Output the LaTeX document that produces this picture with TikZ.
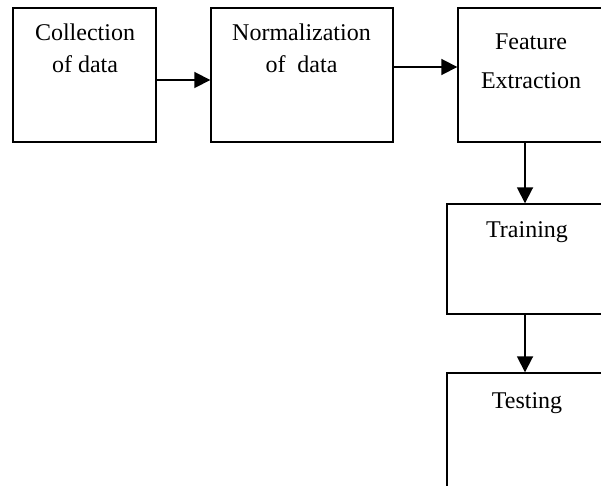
\documentclass[tikz,border=0pt]{standalone}
\usepackage{fontspec}
\setmainfont{Liberation Serif}
\usetikzlibrary{positioning,arrows.meta}

\tikzset{
  box/.style={draw, line width=1.4pt, inner sep=0pt},
  lbl/.style={inner sep=0pt, anchor=base, align=center, font=\fontsize{24}{32}\selectfont},
  arr/.style={line width=1.8pt, -{Triangle[length=16pt,width=16pt]}}
}

\begin{document}
\begin{tikzpicture}[x=1pt, y=-1pt]
\useasboundingbox (0,0) rectangle (601,486);
\clip (0,0) rectangle (601,486);

% Define nodes
\node[box, minimum width=143pt, minimum height=134pt] (coll) at (84.5,75) {};
\node[box, minimum width=182pt, minimum height=134pt, right=53.6pt of coll] (norm) {};
\node[box, minimum width=146pt, minimum height=134pt, right=63.6pt of norm] (feat) {};
\node[box, minimum width=160pt, minimum height=110pt, below=60.6pt of feat, xshift=-4pt] (train) {};
\node[box, minimum width=160pt, minimum height=130pt, below=57.6pt of train] (test) {};

% Labels
\node[lbl] (collT) at (85,73) {Collection\\of data};
\node[lbl] (normT) at (301.5,73) {Normalization\\of~~data};
\node[lbl] (featT) at (531,89) {Feature\\[7pt]Extraction};
\node[lbl] (trainT) at (527,237) {Training};
\node[lbl] (testT) at (527,408) {Testing};

% Connect the nodes
\draw[arr] ([yshift=-5pt]coll.east) -- ([yshift=-5pt]norm.west);
\draw[arr] ([yshift=8pt]norm.east) -- ([yshift=8pt]feat.west);
\draw[arr] ([xshift=-6pt]feat.south) -- ([xshift=-6pt]feat.south |- train.north);
\draw[arr] ([xshift=-2pt]train.south) -- ([xshift=-2pt]test.north);

\end{tikzpicture}
\end{document}
